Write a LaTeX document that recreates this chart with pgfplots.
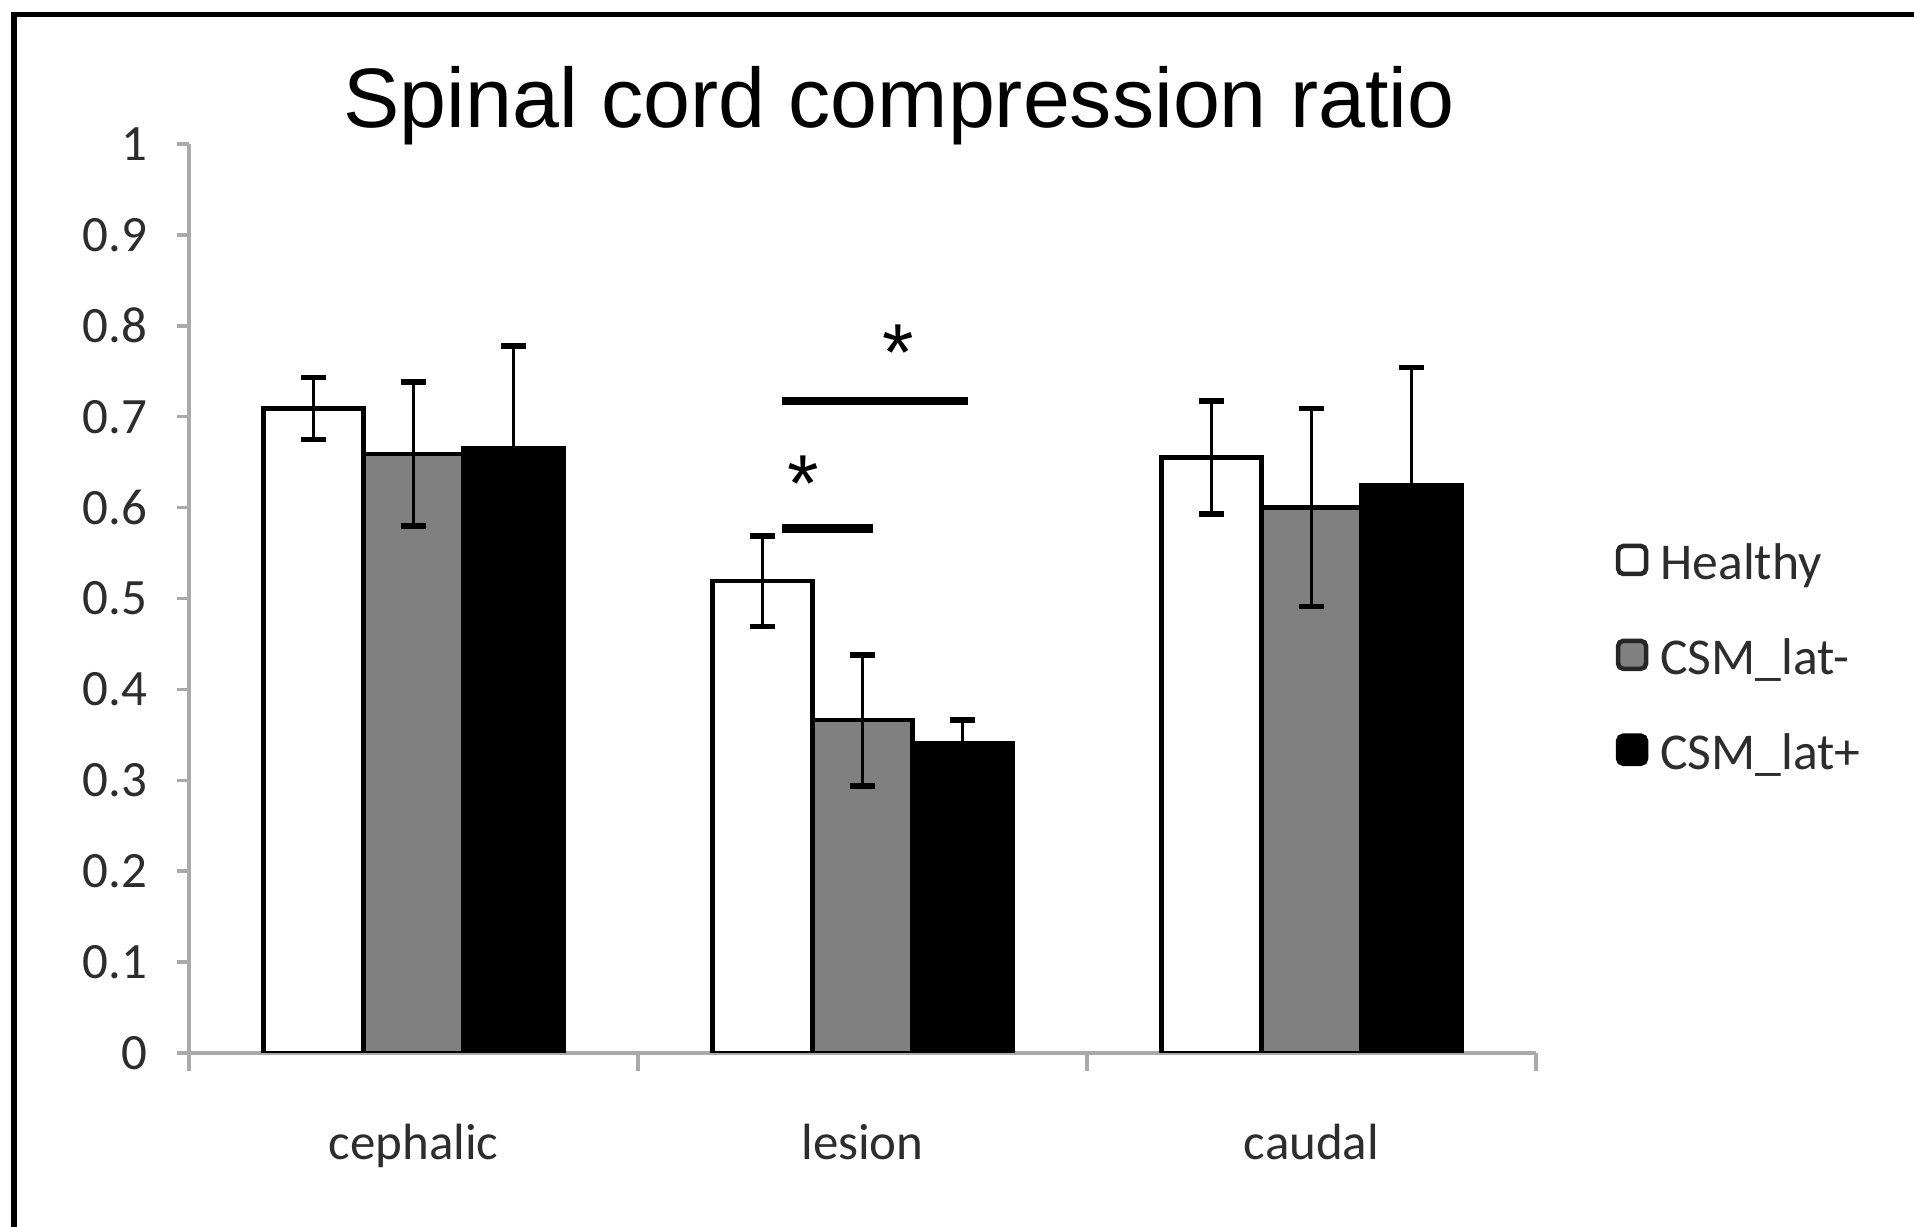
\documentclass[border=0pt]{standalone}
\usepackage{pgfplots}
\pgfplotsset{compat=1.18}
\usepackage{fontspec}
\setmainfont{Carlito}
\newfontfamily\titlefont{Liberation Sans}
\definecolor{bargray}{RGB}{128,128,128}
\definecolor{axisgray}{RGB}{170,170,170}
\definecolor{labelgray}{RGB}{45,45,45}

\begin{document}
\begin{tikzpicture}[x=1cm,y=1cm]
\path[use as bounding box] (0,0) rectangle (19.14,12.27);
\begin{axis}[
  at={(1.89cm,1.74cm)}, anchor=south west,
  scale only axis, width=13.47cm, height=9.09cm,
  xmin=-0.5, xmax=2.5, ymin=0, ymax=1,
  ybar=0pt, bar width=1cm,
  axis lines=left,
  axis line style={-, draw=axisgray, line width=1.4pt},
  xtick={0,1,2}, xticklabels={cephalic,lesion,caudal},
  minor xtick={-0.5,0.5,1.5,2.5},
  major x tick style={draw=none},
  minor x tick style={draw=axisgray, line width=1pt},
  ytick={0,0.1,0.2,0.3,0.4,0.5,0.6,0.7,0.8,0.9,1},
  yticklabels={0,0.1,0.2,0.3,0.4,0.5,0.6,0.7,0.8,0.9,1},
  y tick style={draw=axisgray, line width=1pt},
  tick align=outside,
  major tick length=3.4pt, minor tick length=5.2pt,
  /pgf/number format/assume math mode=true,
  tick label style={font=\fontsize{14.5}{17}\selectfont, text=labelgray},
  x tick label style={anchor=base, yshift=-0.95cm, inner sep=0pt},
  y tick label style={anchor=east, inner sep=0pt, xshift=-0.29cm},
  legend style={at={(1.0587,0.438)}, anchor=west, draw=none, fill=none,
    inner sep=0pt, row sep=10.4pt, column sep=0.12cm,
    font=\fontsize{14.7}{17}\selectfont,
    text=labelgray,
    nodes={inner sep=0pt, text height=14pt, text depth=2.6pt}},
  legend cell align=left,
  error bars/y dir=both, error bars/y explicit,
  error bars/error bar style={line width=1.1pt, black},
  error bars/error mark options={rotate=90, mark size=3.5pt, line width=1.6pt, black},
]
\addplot[fill=white, draw=black, line width=1.2pt,
  legend image code/.code={\draw[fill=white, draw=black!85, line width=1.3pt, rounded corners=1.5pt] (0cm,-0.14cm) rectangle (0.28cm,0.14cm);}]
  coordinates {(0,0.709) +- (0,0.034) (1,0.519) +- (0,0.050) (2,0.655) +- (0,0.062)};
\addlegendentry{Healthy}
\addplot[fill=bargray, draw=black, line width=1.2pt,
  legend image code/.code={\draw[fill=bargray, draw=black!85, line width=1.3pt, rounded corners=1.5pt] (0cm,-0.14cm) rectangle (0.28cm,0.14cm);}]
  coordinates {(0,0.659) +- (0,0.079) (1,0.366) +- (0,0.072) (2,0.600) +- (0,0.109)};
\addlegendentry{CSM\_lat-}
\addplot[fill=black, draw=black, line width=1.2pt,
  error bars/y dir=plus,
  legend image code/.code={\draw[fill=black, draw=black, line width=1.3pt, rounded corners=1.5pt] (0cm,-0.14cm) rectangle (0.28cm,0.14cm);}]
  coordinates {(0,0.665) +- (0,0.113) (1,0.341) +- (0,0.025) (2,0.625) +- (0,0.129)};
\addlegendentry{CSM\_lat+}
\draw[line width=2.3pt, black] (axis cs:0.820,0.577) -- (axis cs:1.024,0.577);
\draw[line width=2.3pt, black] (axis cs:0.820,0.717) -- (axis cs:1.236,0.717);
\node[anchor=north, inner sep=0pt, font=\titlefont\fontsize{23}{26}\selectfont] at (axis cs:0.867,0.658) {*};
\node[anchor=north, inner sep=0pt, font=\titlefont\fontsize{23}{26}\selectfont] at (axis cs:1.079,0.802) {*};
\end{axis}
\node[anchor=base, inner sep=0pt, font=\titlefont\fontsize{24}{28}\selectfont] at (8.99,10.99) {Spinal cord compression ratio};
\draw[line width=0.05cm, black] (0.14,-0.5) -- (0.14,12.12) -- (20,12.12);
\end{tikzpicture}
\end{document}
